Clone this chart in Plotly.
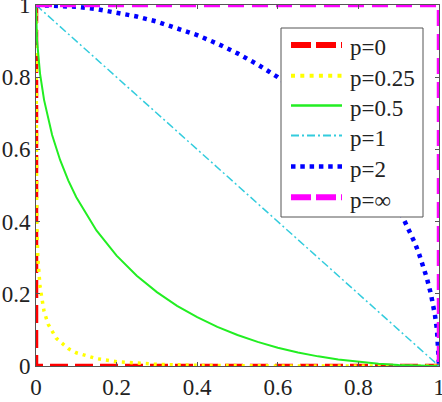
import plotly.graph_objects as go

# p = 0 (L0 "ball": along the axes)
x_p0 = [0, 0, 1]
y_p0 = [1, 0, 0]

# p = 0.25
x_p025 = [0, 0.00001, 0.0002, 0.00064, 0.00176, 0.00456, 0.01, 0.02, 0.03, 0.05,
          0.08, 0.1, 0.15, 0.2, 0.3, 0.4, 0.5, 0.6, 0.8, 1]
y_p025 = [1, 0.8, 0.6, 0.5, 0.4, 0.3, 0.2186, 0.1515, 0.1162, 0.0772,
          0.0481, 0.0367, 0.0204, 0.012, 0.0046, 0.0018, 0.0006, 0.0002, 0.0, 0]

# p = 0.5
x_p05 = [0, 0.0025, 0.01, 0.02, 0.04, 0.06, 0.08, 0.1, 0.15, 0.2, 0.25, 0.3, 0.35,
         0.4, 0.45, 0.5, 0.55, 0.6, 0.65, 0.7, 0.75, 0.8, 0.85, 0.9, 0.95, 1]
y_p05 = [1, 0.9025, 0.81, 0.7372, 0.64, 0.5701, 0.5143, 0.4675, 0.3754, 0.3056, 0.25,
         0.2046, 0.1668, 0.1351, 0.1084, 0.0858, 0.0668, 0.0508, 0.0376, 0.0267,
         0.018, 0.0111, 0.0061, 0.0026, 0.0006, 0]

# p = 1
x_p1 = [0, 1]
y_p1 = [1, 0]

# p = 2
x_p2 = [0, 0.05, 0.1, 0.15, 0.2, 0.25, 0.3, 0.35, 0.4, 0.45, 0.5, 0.55, 0.6, 0.65,
        0.7, 0.75, 0.8, 0.85, 0.9, 0.94, 0.95, 0.97, 0.98, 0.99, 0.995, 1]
y_p2 = [1, 0.9987, 0.995, 0.9887, 0.9798, 0.9682, 0.9539, 0.9367, 0.9165, 0.893,
        0.866, 0.8352, 0.8, 0.7599, 0.7141, 0.6614, 0.6, 0.5268, 0.4359, 0.3412,
        0.3122, 0.2431, 0.199, 0.1411, 0.0999, 0]

# p = infinity
x_pinf = [0, 1, 1]
y_pinf = [1, 1, 0]

tick_vals = [0, 0.2, 0.4, 0.6, 0.8, 1]
tick_text = ["0", "0.2", "0.4", "0.6", "0.8", "1"]

legend_names = ["p=0", "p=0.25", "p=0.5", "p=1", "p=2", "p=\u221e"]

# (x, y, color, plot width, plot dash, legend width, legend dash)
styles = [
    (x_p0, y_p0, "#ff0000", 4.5, "18px,7px", 6, "20px,5px"),
    (x_p025, y_p025, "#ffff00", 3.5, "3px,5px", 4, "4px,5.3px"),
    (x_p05, y_p05, "#22ee22", 2, "solid", 2.5, "solid"),
    (x_p1, y_p1, "#33ccdd", 1.5, "8px,3px,2px,3px", 2, "8px,3px,2px,3px"),
    (x_p2, y_p2, "#0000ff", 4.5, "4px,5px", 4.5, "4.5px,4.8px"),
    (x_pinf, y_pinf, "#ff00ff", 4.5, "16px,8px", 6, "20px,5px"),
]

FONT = "Liberation Serif"
TXT = "#222222"

# plot area in pixels (for converting the legend placement)
L, R, T, B = 36, 439, 5, 366


def px_x(p):
    return (p - L) / (R - L)


def px_y(p):
    return (B - p) / (B - T)


fig = go.Figure()
for name, (xs, ys, color, w, dash, lw, ldash) in zip(legend_names, styles):
    fig.add_trace(go.Scatter(x=xs, y=ys, mode="lines", name=name,
                             line=dict(color=color, width=w, dash=dash),
                             cliponaxis=False, showlegend=False))

axis_common = dict(
    range=[0, 1], tickvals=tick_vals, ticktext=tick_text,
    showgrid=False, zeroline=False, showline=True, mirror="ticks",
    linecolor="#555555", linewidth=1, ticks="inside", ticklen=4,
    tickcolor="#555555", ticklabeloverflow="allow", automargin=False,
    tickfont=dict(family=FONT, size=23, color=TXT),
)
fig.update_xaxes(**axis_common)
fig.update_yaxes(**axis_common)

# legend box
fig.add_shape(type="rect", xref="paper", yref="paper",
              x0=px_x(281), x1=px_x(423), y0=px_y(217), y1=px_y(28),
              fillcolor="white", line=dict(color="#555555", width=1),
              layer="above")
row_y = [45, 75.7, 105.5, 135.5, 166.5, 197.3]
for name, (xs, ys, color, w, dash, lw, ldash), ry in zip(legend_names, styles, row_y):
    fig.add_shape(type="line", xref="paper", yref="paper",
                  x0=px_x(291), x1=px_x(342), y0=px_y(ry), y1=px_y(ry),
                  line=dict(color=color, width=lw, dash=ldash), layer="above")
    fig.add_annotation(xref="paper", yref="paper", x=px_x(348), y=px_y(ry + 3),
                       xanchor="left", yanchor="middle", text=name,
                       showarrow=False,
                       font=dict(family=FONT, size=23, color=TXT))

fig.update_layout(
    width=442, height=402,
    margin=dict(l=L, r=442 - R, t=T, b=402 - B, autoexpand=False),
    paper_bgcolor="white", plot_bgcolor="white",
    font=dict(family=FONT),
    showlegend=False,
)

fig.write_html("out.html")
